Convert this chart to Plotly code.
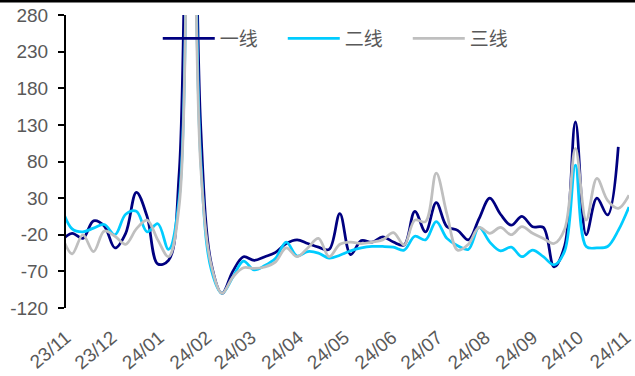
import pandas as pd
import plotly.graph_objects as go

# Weekly observations (week ending Sundays), year-on-year change, %
weeks = pd.date_range("2023-10-29", periods=54, freq="7D")

tier1 = [-28, -18, -25, -1, -8, -38, -18, 38, 5, -60,
         -55, 65, 900, 130, -60, -100, -70, -50, -55, -50,
         -44, -32, -27, -32, -37, -40, 9, -47, -28, -30,
         -23, -30, -34, 12, -16, 24, -9, -14, -27, 2,
         30, 8, -7, 5, -9, -10, -64, -35, 134, -20,
         30, 7, 100]

tier2 = [18, -12, -16, -11, -6, -20, 8, 12, -16, -5,
         -40, 30, 850, 85, -68, -100, -78, -56, -68, -62,
         -52, -30, -49, -43, -45, -52, -48, -42, -38, -36,
         -36, -37, -41, -22, -27, -2, -25, -35, -40, -10,
         -30, -42, -37, -50, -41, -50, -61, -42, 75, -36,
         -38, -36, -14, 18]

tier3 = [-20, -46, -20, -43, -15, -22, -33, -12, 0, -27,
         -50, 20, 800, 75, -62, -100, -78, -65, -66, -64,
         -57, -38, -50, -38, -25, -50, -33, -30, -32, -30,
         -27, -17, -34, 0, -2, 64, 8, -41, -33, -10,
         -18, -10, -20, -9, -18, -25, -32, -12, 98, 0,
         57, 27, 16, 34]

series_names = ["一线", "二线", "三线"]
series_colors = ["#000080", "#00CCFF", "#BFBFBF"]

month_ticks = ["2023-11-01", "2023-12-01", "2024-01-01", "2024-02-01",
               "2024-03-01", "2024-04-01", "2024-05-01", "2024-06-01",
               "2024-07-01", "2024-08-01", "2024-09-01", "2024-10-01",
               "2024-11-01"]
month_labels = ["23/11", "23/12", "24/01", "24/02", "24/03", "24/04",
                "24/05", "24/06", "24/07", "24/08", "24/09", "24/10",
                "24/11"]
y_ticks = [-120, -70, -20, 30, 80, 130, 180, 230, 280]
y_labels = ["-120", "-70", "-20", "30", "80", "130", "180", "230", "280"]

x_range = ["2023-11-01", "2024-11-03"]
label_font = dict(family="Liberation Sans, Arial, sans-serif", size=19, color="#595959")

fig = go.Figure()
for name, values, color in zip(series_names, [tier1, tier2, tier3], series_colors):
    fig.add_trace(go.Scatter(
        x=weeks[:len(values)], y=values, name=name, mode="lines",
        line=dict(color=color, width=2.75, shape="spline", smoothing=1),
    ))

fig.update_layout(
    width=635, height=376,
    margin=dict(l=66, r=0, t=15, b=68),
    paper_bgcolor="white", plot_bgcolor="white",
    showlegend=True,
    legend=dict(
        orientation="h", x=0.163, xanchor="left", y=0.92, yanchor="middle",
        font=dict(family="Noto Sans CJK SC", size=19, color="#595959"),
        itemwidth=52, entrywidth=58, bgcolor="rgba(0,0,0,0)",
    ),
    xaxis=dict(
        type="date", range=x_range, tickmode="array",
        tickvals=month_ticks, ticktext=month_labels, tickangle=-40,
        ticks="", showline=False, showgrid=False, zeroline=False,
        tickfont=label_font, ticklabelstandoff=14,
        ticklabeloverflow="allow",
    ),
    xaxis2=dict(
        type="date", range=x_range, overlaying="x", anchor="free",
        position=0.3, tickmode="array", tickvals=month_ticks,
        showticklabels=False, ticks="outside", ticklen=5, tickwidth=2,
        tickcolor="black", showline=True, linewidth=2, linecolor="black",
        showgrid=False, zeroline=False,
    ),
    yaxis=dict(
        range=[-120, 280], tickmode="array", tickvals=y_ticks,
        ticktext=y_labels,
        ticks="outside", ticklen=6, tickwidth=2, tickcolor="black",
        showline=True, linewidth=2, linecolor="black",
        showgrid=False, zeroline=False, tickfont=label_font,
        ticklabelstandoff=6,
    ),
    shapes=[dict(type="line", xref="paper", yref="paper",
                 x0=-0.2, x1=1.2, y0=1.048, y1=1.048,
                 line=dict(color="black", width=3))],
)

fig.write_html("out.html")
